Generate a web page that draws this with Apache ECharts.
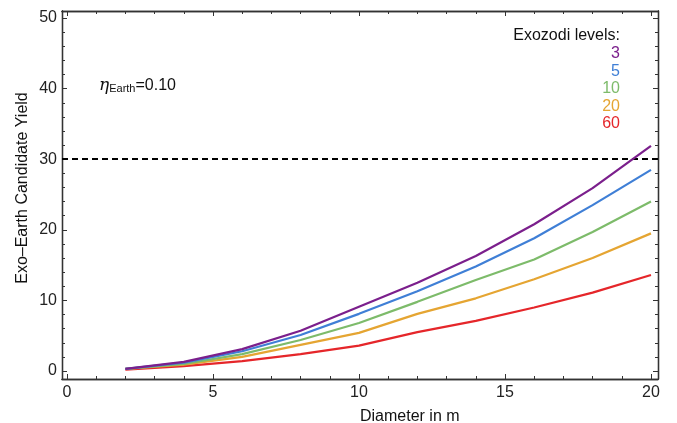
<!DOCTYPE html>
<html>
<head>
<meta charset="utf-8">
<script src="https://cdn.jsdelivr.net/npm/echarts@6/dist/echarts.min.js"></script>
<style>html,body{margin:0;padding:0;background:#fff}#c{width:677px;height:423px}</style>
</head>
<body>
<div id="c"></div>
<script>
const diameters = [2, 4, 6, 8, 10, 12, 14, 16, 18, 20];
const yield3  = [0.3, 1.3, 3.1, 5.7, 9.1, 12.5, 16.3, 20.8, 25.9, 31.9];
const yield5  = [0.3, 1.2, 2.8, 5.1, 8.1, 11.3, 14.8, 18.8, 23.5, 28.5];
const yield10 = [0.3, 1.0, 2.4, 4.4, 6.8, 9.8, 12.9, 15.8, 19.7, 24.0];
const yield20 = [0.3, 0.9, 2.0, 3.7, 5.4, 8.1, 10.3, 13.0, 16.0, 19.5];
const yield60 = [0.2, 0.7, 1.4, 2.4, 3.6, 5.5, 7.1, 9.0, 11.1, 13.6];
const levels = ['3', '5', '10', '20', '60'];
const colors = ['#7B1F8C', '#3F7FD6', '#7DBB6A', '#E5A532', '#E5262A'];
const allYields = [yield3, yield5, yield10, yield20, yield60];
const xMajor = [0, 5, 10, 15, 20];
const xMinor = [1,2,3,4,6,7,8,9,11,12,13,14,16,17,18,19];
const yMajor = [0, 10, 20, 30, 40, 50];
const yMinor = [2,4,6,8,12,14,16,18,22,24,26,28,32,34,36,38,42,44,46,48];
const goal = 30;

const FONT = 'Liberation Sans, Arial, sans-serif';
const axisColor = '#333';
const xMin = -0.17, xMax = 20.24, yMin = -1.13, yMax = 51;

function xAx(pos, vals, len, labels) {
  return {
    type: 'value', position: pos, min: xMin, max: xMax,
    axisLine: {show: true, onZero: false, lineStyle: {color: axisColor, width: 1.3}},
    axisTick: {show: true, inside: true, length: len, customValues: vals, lineStyle: {color: axisColor, width: 1}},
    axisLabel: labels ? {show: true, customValues: vals, fontFamily: FONT, fontSize: 16, color: '#222', margin: 6} : {show: false},
    splitLine: {show: false}
  };
}
function yAx(pos, vals, len, labels) {
  return {
    type: 'value', position: pos, min: yMin, max: yMax,
    axisLine: {show: true, onZero: false, lineStyle: {color: axisColor, width: 1.3}},
    axisTick: {show: true, inside: true, length: len, customValues: vals, lineStyle: {color: axisColor, width: 1}},
    axisLabel: labels ? {show: true, customValues: vals, fontFamily: FONT, fontSize: 16, color: '#222', margin: 5} : {show: false},
    splitLine: {show: false}
  };
}

const series = allYields.map((d, i) => ({
  type: 'line',
  name: levels[i],
  xAxisIndex: 0, yAxisIndex: 0,
  data: diameters.map((x, j) => [x, d[j]]),
  showSymbol: false,
  lineStyle: {color: colors[i], width: 2.2},
  itemStyle: {color: colors[i]},
  z: 10 - i,
  animation: false
}));
series[0].markLine = {
  silent: true, symbol: 'none', animation: false,
  label: {show: false},
  lineStyle: {color: '#000', type: [6, 4], width: 2},
  data: [{yAxis: goal}]
};

const legendGraphics = [{
  type: 'text', right: 677 - 620, top: 28,
  style: {text: 'Exozodi levels:', font: '16px ' + FONT, fill: '#111', textAlign: 'right'}
}];
levels.forEach((l, i) => {
  legendGraphics.push({
    type: 'text', right: 677 - 620, top: 46 + i * 17.5,
    style: {text: l, font: '16px ' + FONT, fill: colors[i], textAlign: 'right'}
  });
});

const chart = echarts.init(document.getElementById('c'), null, {renderer: 'canvas'});
chart.setOption({
  backgroundColor: '#fff',
  animation: false,
  grid: {left: 62, right: 19, top: 11, bottom: 44, containLabel: false},
  xAxis: [xAx('bottom', xMajor, 5, true), xAx('bottom', xMinor, 3, false), xAx('top', xMajor, 5, false), xAx('top', xMinor, 3, false)],
  yAxis: [yAx('left', yMajor, 5, true), yAx('left', yMinor, 3, false), yAx('right', yMajor, 5, false), yAx('right', yMinor, 3, false)],
  series: series,
  graphic: legendGraphics.concat([
    {
      type: 'text', left: 99, top: 77,
      style: {
        rich: {
          eta: {font: 'italic 17px DejaVu Serif, serif', fill: '#111'},
          sub: {font: '11px ' + FONT, fill: '#111', padding: [6, 0, 0, 0]},
          n: {font: '16px ' + FONT, fill: '#111'}
        },
        text: '{eta|η}{sub|Earth}{n|=0.10}'
      }
    },
    {
      type: 'text', left: 360, top: 409,
      style: {text: 'Diameter in m', font: '16px ' + FONT, fill: '#111', textAlign: 'center', textVerticalAlign: 'middle'}
    },
    {
      type: 'text', x: 23, y: 188, rotation: Math.PI / 2,
      style: {text: 'Exo\u2013Earth Candidate Yield', font: '16px ' + FONT, fill: '#111', textAlign: 'center', textVerticalAlign: 'middle'}
    }
  ])
});
</script>
</body>
</html>
